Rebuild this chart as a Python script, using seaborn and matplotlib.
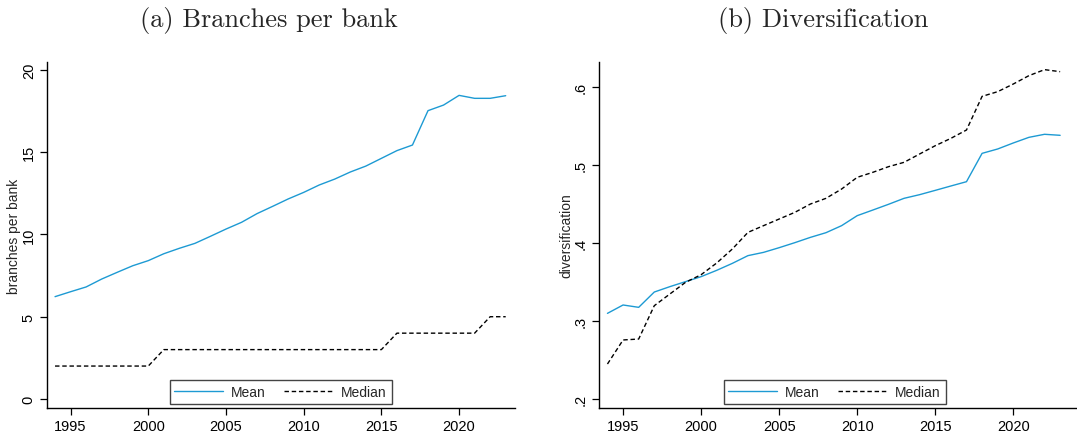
import matplotlib
matplotlib.use("Agg")
import matplotlib.pyplot as plt
import pandas as pd
import seaborn as sns

years = list(range(1994, 2024))

branches_mean = [6.22, 6.52, 6.81, 7.29, 7.70, 8.10, 8.41, 8.83, 9.16, 9.46,
                 9.89, 10.33, 10.74, 11.27, 11.71, 12.16, 12.56, 13.01, 13.37, 13.80,
                 14.16, 14.63, 15.10, 15.44, 17.53, 17.87, 18.46, 18.28, 18.28, 18.44]
branches_median = [2, 2, 2, 2, 2, 2, 2, 3, 3, 3,
                   3, 3, 3, 3, 3, 3, 3, 3, 3, 3,
                   3, 3, 4, 4, 4, 4, 4, 4, 5, 5]

divers_mean = [0.3097, 0.3204, 0.3174, 0.3370, 0.3439, 0.3503, 0.3567, 0.3648, 0.3737, 0.3836,
               0.3878, 0.3938, 0.4002, 0.4070, 0.4130, 0.4220, 0.4348, 0.4420, 0.4493, 0.4570,
               0.4617, 0.4672, 0.4728, 0.4783, 0.5146, 0.5202, 0.5279, 0.5351, 0.5390, 0.5377]
divers_median = [0.2448, 0.2756, 0.2768, 0.3195, 0.3345, 0.3494, 0.3592, 0.3742, 0.3921, 0.4134,
                 0.4220, 0.4305, 0.4390, 0.4497, 0.4570, 0.4689, 0.4839, 0.4903, 0.4975, 0.5031,
                 0.5138, 0.5244, 0.5338, 0.5445, 0.5876, 0.5936, 0.6034, 0.6141, 0.6218, 0.6192]

x_ticks = [1995, 2000, 2005, 2010, 2015, 2020]
branch_ticks = [0, 5, 10, 15, 20]
branch_ticklabels = ["0", "5", "10", "15", "20"]
divers_ticks = [0.2, 0.3, 0.4, 0.5, 0.6]
divers_ticklabels = [".2", ".3", ".4", ".5", ".6"]

titles = ["(a) Branches per bank", "(b) Diversification"]
ylabels = ["branches per bank", "diversification"]
series_names = ["Mean", "Median"]

sns.set_style("ticks")
plt.rcParams["font.family"] = ["Liberation Sans", "DejaVu Sans"]

BLUE = "#1d9ad3"

fig = plt.figure(figsize=(10.77, 4.35), dpi=100)
ax_a = fig.add_axes([0.0436, 0.0598, 0.4346, 0.7954])
ax_b = fig.add_axes([0.5562, 0.0598, 0.4438, 0.7954])


def long_frame(mean_vals, median_vals):
    return pd.DataFrame({
        "year": years * 2,
        "value": mean_vals + median_vals,
        "stat": [series_names[0]] * len(years) + [series_names[1]] * len(years),
    })


panels = [
    (ax_a, long_frame(branches_mean, branches_median), (1993.48, 2023.6), (-0.55, 20.49),
     branch_ticks, branch_ticklabels, ylabels[0], 0.499),
    (ax_b, long_frame(divers_mean, divers_median), (1993.46, 2024.08), (0.1885, 0.6316),
     divers_ticks, divers_ticklabels, ylabels[1], 0.4927),
]

for ax, df, xlim, ylim, yt, ytl, ylab, leg_x in panels:
    sns.lineplot(data=df, x="year", y="value", hue="stat", style="stat",
                 palette={series_names[0]: BLUE, series_names[1]: "black"},
                 dashes={series_names[0]: "", series_names[1]: (3.2, 2.0)},
                 linewidth=1.0, ax=ax)
    ax.set_xlim(*xlim)
    ax.set_ylim(*ylim)
    ax.set_xticks(x_ticks)
    ax.set_xticklabels([str(t) for t in x_ticks], fontsize=10.5)
    ax.set_yticks(yt)
    ax.set_yticklabels(ytl, fontsize=10.5, rotation=90, va="center")
    ax.set_xlabel("")
    ax.set_ylabel(ylab, fontsize=10, labelpad=0.5)
    for side in ("top", "right"):
        ax.spines[side].set_visible(False)
    for side in ("left", "bottom"):
        ax.spines[side].set_color("black")
        ax.spines[side].set_linewidth(1.0)
    ax.tick_params(axis="both", direction="out", length=5, width=0.9, color="black",
                   labelcolor="black", pad=3)
    leg = ax.legend(loc="lower center", bbox_to_anchor=(leg_x, 0.012), ncol=2,
                    fontsize=10, frameon=True, fancybox=False, handlelength=3.5,
                    columnspacing=1.3, handletextpad=0.6, borderpad=0.35,
                    borderaxespad=0.0, title=None)
    leg.get_frame().set_edgecolor("#444444")
    leg.get_frame().set_linewidth(1.0)
    leg.get_frame().set_alpha(1.0)

fig.text(0.2493, 0.953, titles[0], ha="center", va="center", fontsize=19, family="cmr10")
fig.text(0.764, 0.953, titles[1], ha="center", va="center", fontsize=19, family="cmr10")

fig.savefig("out.png", dpi=100)
